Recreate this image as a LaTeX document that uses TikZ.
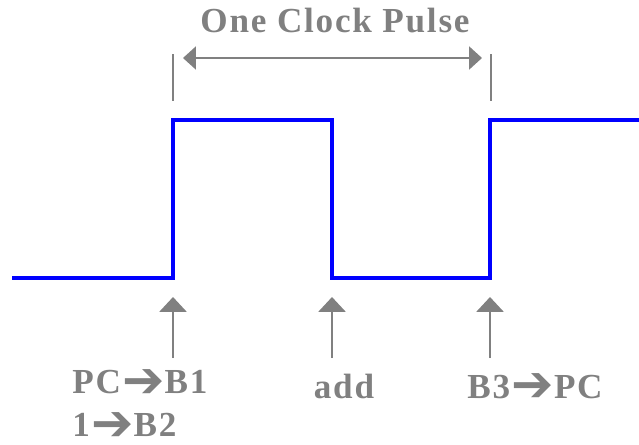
\documentclass[tikz,border=0pt]{standalone}
\usepackage{fontspec}
\setmainfont{Liberation Serif}[LetterSpace=5]
\newfontfamily\symfont{DejaVu Sans}
\usepackage{tikz}
\usetikzlibrary{arrows.meta,calc}
\definecolor{pulseblue}{HTML}{0000FF}
\definecolor{notegray}{HTML}{808080}
% block arrow used inside the labels
\newcommand{\xfer}{\hspace{1pt}\raisebox{-2.6pt}[0pt][0pt]{\symfont\fontsize{36}{36}\selectfont ➔}}

\begin{document}
\begin{tikzpicture}[
  pulse/.style={draw=pulseblue,line width=2.8pt},
  evt/.style={draw=notegray,fill=notegray,line width=2pt,-{Triangle[width=0.67cm,length=0.37cm]}},
  span/.style={draw=notegray,line width=1.3pt,{Triangle[width=0.57cm,length=0.32cm]}-{Triangle[width=0.57cm,length=0.32cm]}},
  tick/.style={draw=notegray,line width=2pt},
  note/.style={text=notegray,font=\fontsize{25}{30.6}\selectfont\bfseries,inner sep=0pt}
]
\useasboundingbox (0,0) rectangle (15.975,11.1);
% edges of the clock signal
\coordinate (e1) at (4.325,4.15);
\coordinate (e2) at (8.3,4.15);
\coordinate (e3) at (12.25,4.15);
\draw[pulse] (0.3,4.15) -- (e1) -- (4.325,8.1) -- (8.3,8.1) -- (e2) -- (e3) -- (12.25,8.1) -- (15.975,8.1);
% one period
\coordinate (t1) at (4.325,9.75);
\coordinate (t2) at (12.275,9.75);
\draw[tick] (t1) -- ++(0,-1.175);
\draw[tick] (t2) -- ++(0,-1.175);
\draw[span] ($(t1)+(0.25,-0.1)$) -- ($(t2)+(-0.225,-0.1)$);
\node[note,anchor=base] (title) at (8.375,10.3) {One Clock Pulse};
% events
\node[note,anchor=base west,align=left] (fetch) at (1.8,0.18) {PC\xfer B1\\1\xfer B2};
\node[note,anchor=base] (add) at (8.6,1.15) {add};
\node[note,anchor=base] (store) at (13.375,1.15) {B3\xfer PC};
\draw[evt] ($(e1)+(0,-2.0)$) -- ($(e1)+(0,-0.475)$);
\draw[evt] ($(e2)+(0,-2.0)$) -- ($(e2)+(0,-0.475)$);
\draw[evt] ($(e3)+(0,-2.0)$) -- ($(e3)+(0,-0.475)$);
\end{tikzpicture}
\end{document}
